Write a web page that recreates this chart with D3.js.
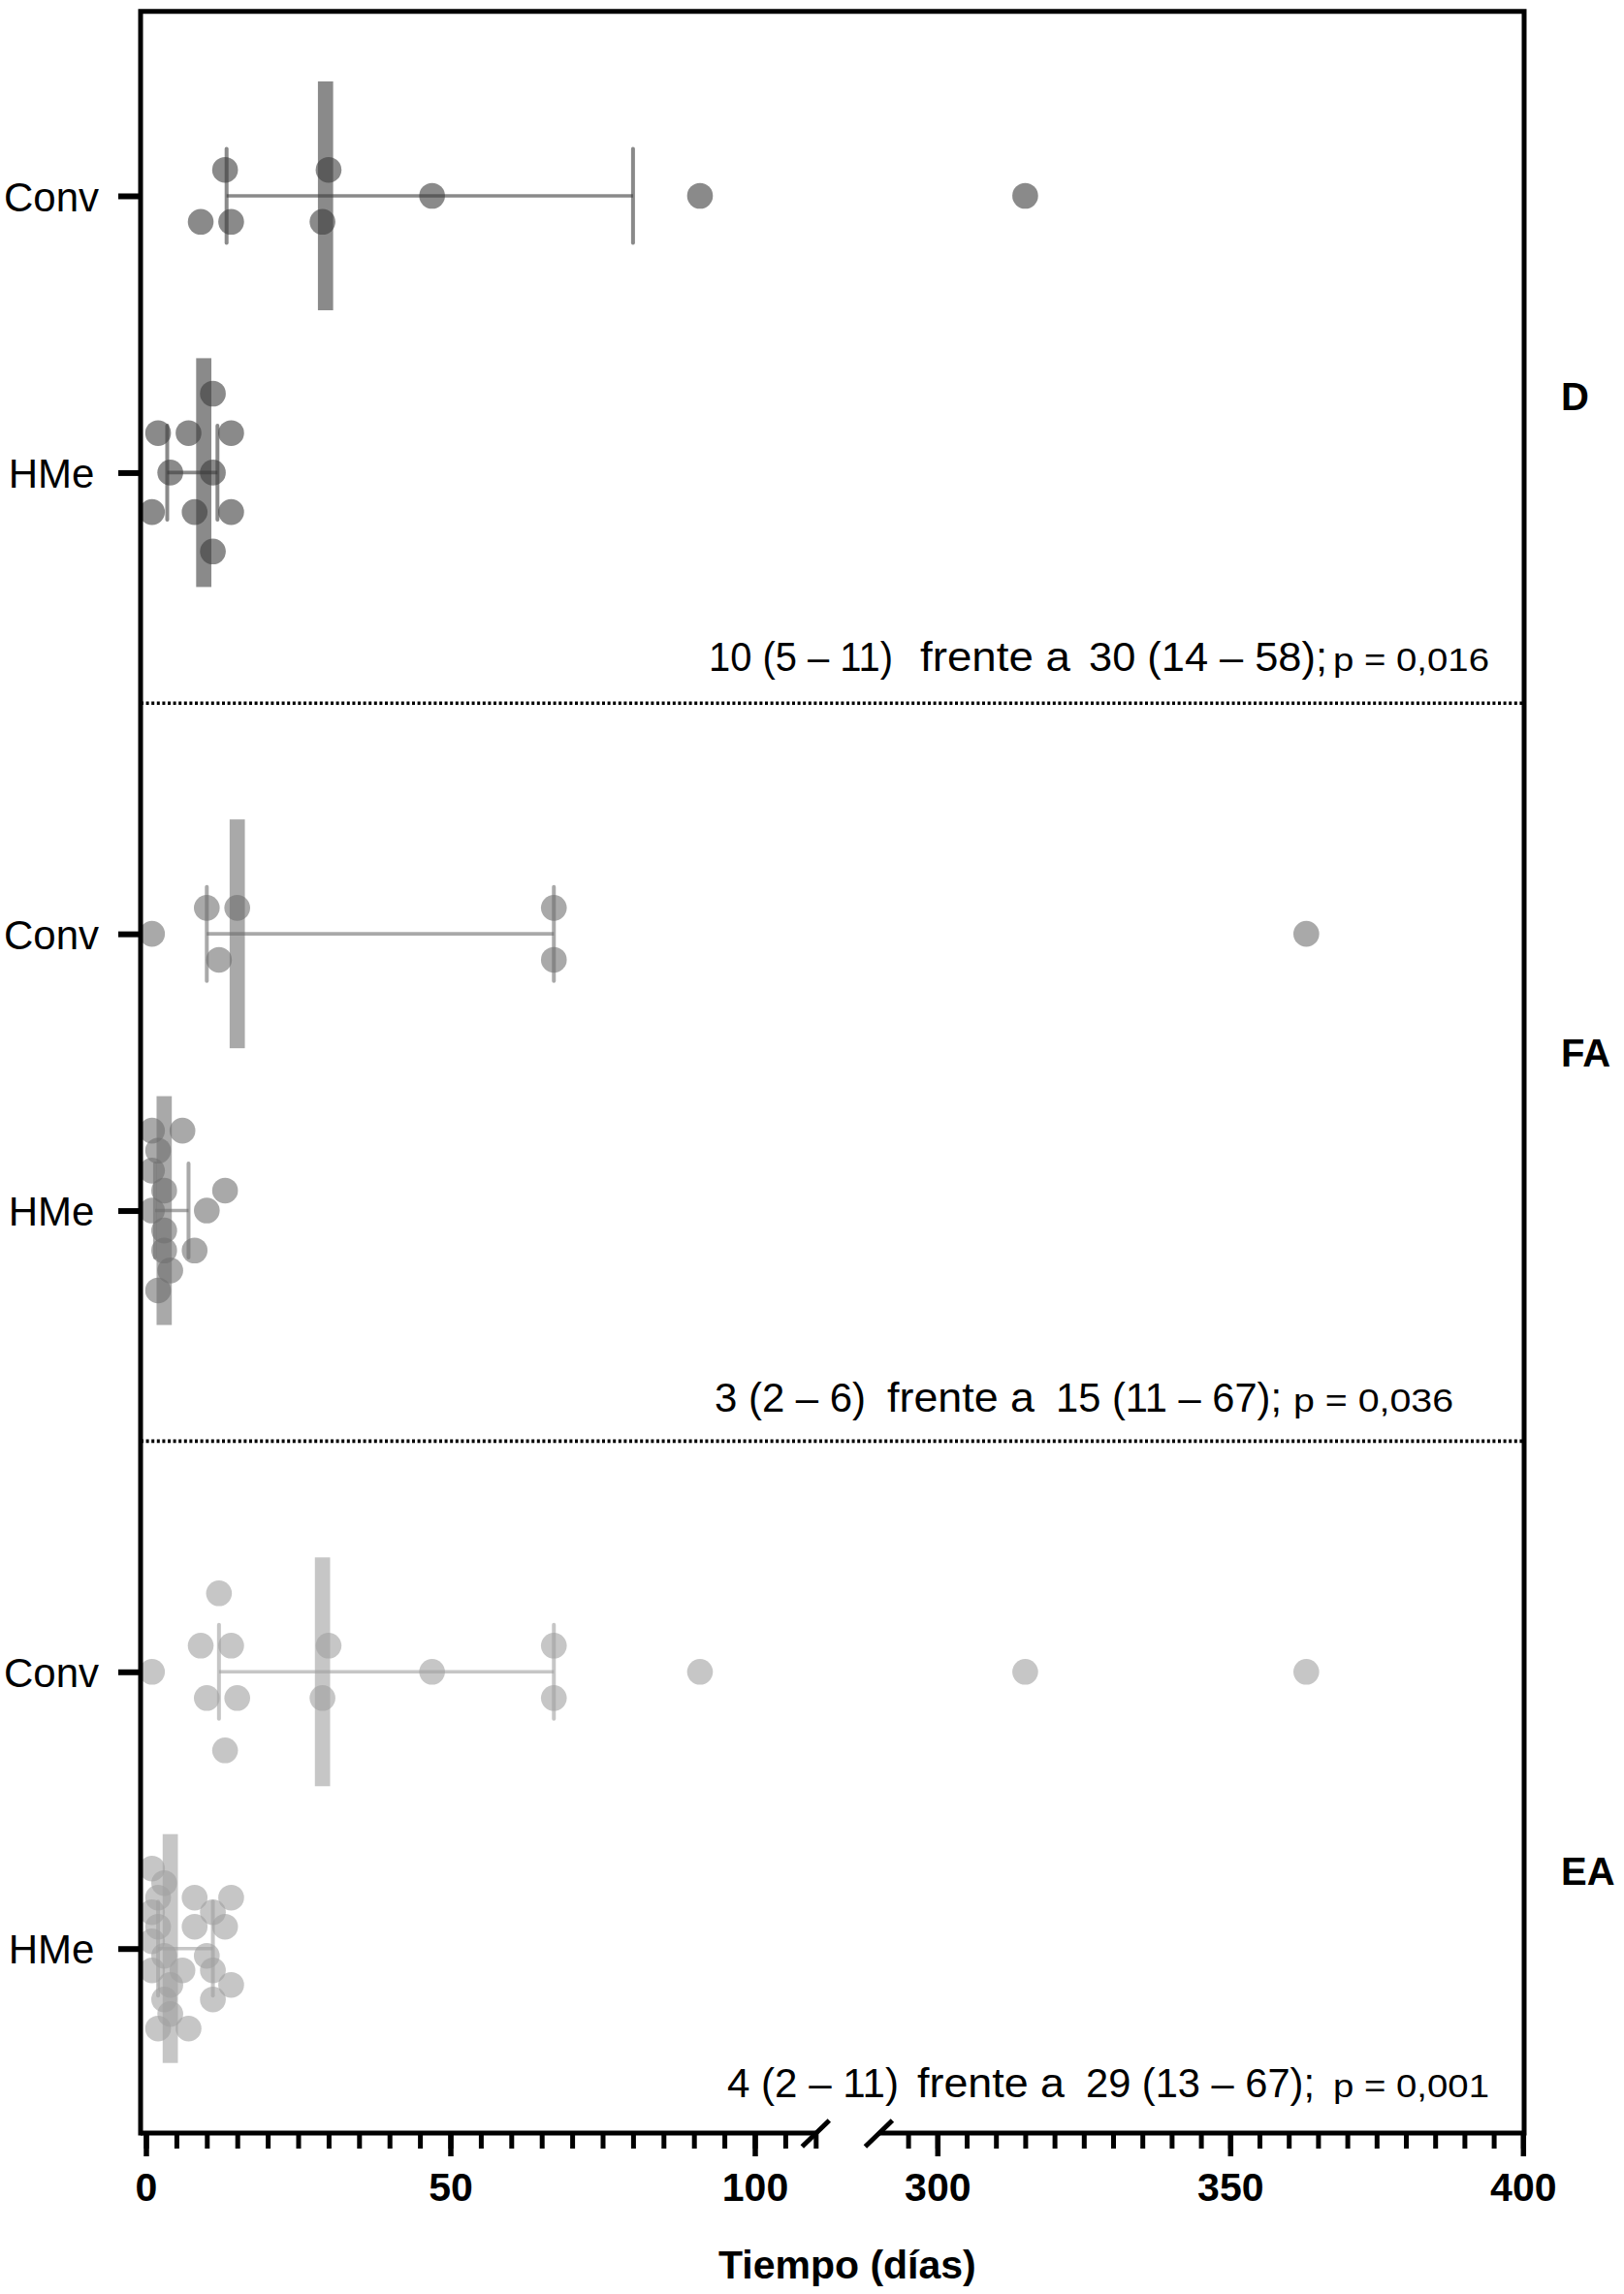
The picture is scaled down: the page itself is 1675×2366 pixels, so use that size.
<!DOCTYPE html>
<html><head><meta charset="utf-8">
<script src="https://cdn.jsdelivr.net/npm/d3@7"></script>
<style>body{margin:0;background:#fff}svg{display:block}</style>
</head><body>
<svg id="c" width="1675" height="2366"></svg>
<script>
// ---------------- DATA ----------------
const groups = ["D", "FA", "EA"];
const rowLabels = ["Conv", "HMe", "Conv", "HMe", "Conv", "HMe"];
const rowGroup = [0, 0, 1, 1, 2, 2];

// values (days) and swarm lanes for each row
const convD     = [13, 9, 14, 30, 29, 47, 91, 315];
const convDLane = [-1, 1, 1, -1, 1, 0, 0, 0];
const hmeD      = [11, 2, 7, 14, 4, 11, 1, 8, 14, 11];
const hmeDLane  = [-2, -1, -1, -1, 0, 0, 1, 1, 1, 2];
const convFA     = [1, 10, 15, 12, 67, 67, 363];
const convFALane = [0, -1, -1, 1, -1, 1, 0];
const hmeFA     = [1, 6, 2, 1, 3, 13, 1, 10, 3, 3, 8, 4, 2];
const hmeFALane = [-4, -4, -3, -2, -1, -1, 0, 0, 1, 2, 2, 3, 4];
const convEA     = [1, 12, 9, 14, 10, 15, 13, 30, 29, 47, 67, 67, 91, 315, 363];
const convEALane = [0, -3, -1, -1, 1, 1, 3, -1, 1, 0, -1, 1, 0, 0, 0];
const hmeEA     = [1, 3, 2, 8, 14, 1, 11, 2, 8, 13, 1, 3, 10, 1, 6, 11, 4, 14, 3, 11, 4, 2, 7];
const hmeEALane = [-5.5, -4.5, -3.5, -3.5, -3.5, -2.5, -2.5, -1.5, -1.5, -1.5, -0.5, 0.5, 0.5, 1.5, 1.5, 1.5, 2.5, 2.5, 3.5, 3.5, 4.5, 5.5, 5.5];

const rowValues = [convD, hmeD, convFA, hmeFA, convEA, hmeEA];
const rowLanes  = [convDLane, hmeDLane, convFALane, hmeFALane, convEALane, hmeEALane];

const xTicksLeft  = d3.range(0, 111, 5);
const xMajorLeft  = [0, 50, 100];
const xTicksRight = d3.range(295, 401, 5);
const xMajorRight = [300, 350, 400];
const xTitle = "Tiempo (días)";

const annotations = [
  ["10 (5 – 11)", "frente a", "30 (14 – 58);", "p = 0,016"],
  ["3 (2 – 6)", "frente a", "15 (11 – 67);", "p = 0,036"],
  ["4 (2 – 11)", "frente a", "29 (13 – 67);", "p = 0,001"]
];

// ---------------- LAYOUT ----------------
const FR = {l: 145, r: 1572, t: 11.7, b: 2200};
const svg = d3.select("#c");

const y = d3.scaleLinear().domain([-2, 21]).range([FR.t, FR.b]);
const rowSlots = [0, 3, 8, 11, 16, 19];
const sepSlots = [5.5, 13.5];
const groupLabelSlots = [2.32, 9.44, 18.31];

const xL = d3.scaleLinear().domain([0, 110]).range([150.5, 841.3]);
const xR = d3.scaleLinear().domain([290, 400]).range([906.4, 1570.8]);
const x = v => v > 200 ? xR(v) : xL(v);

const laneStep = [26.8, 40.7, 26.8, 20.6, 27, 15];
const groupFill = ["#3c3c3c", "#707070", "#a0a0a0"];
const alpha = 0.6;
const R = 13.3;

function pq(sorted, p) {
  const n = sorted.length;
  let pos = p * (n + 1);
  pos = Math.max(1, Math.min(n, pos));
  const i = Math.floor(pos), f = pos - i;
  if (i >= n) return sorted[n - 1];
  return sorted[i - 1] + f * (sorted[i] - sorted[i - 1]);
}

const FONT = "'Liberation Sans', Arial, Helvetica, sans-serif";
const NARROW = "'Liberation Sans Narrow', 'Arial Narrow', 'Liberation Sans', Arial, sans-serif";

// ---------------- SEPARATORS ----------------
svg.append("g").selectAll("line").data(sepSlots).join("line")
  .attr("x1", FR.l).attr("x2", FR.r)
  .attr("y1", d => y(d)).attr("y2", d => y(d))
  .attr("stroke", "#000").attr("stroke-width", 3.6)
  .attr("stroke-dasharray", "3,2.6");

// ---------------- ROWS ----------------
rowValues.forEach((vals, ri) => {
  const g = svg.append("g");
  const cy = y(rowSlots[ri]);
  const col = groupFill[rowGroup[ri]];
  const sorted = vals.slice().sort((a, b) => a - b);
  const med = d3.median(sorted), q1 = pq(sorted, 0.25), q3 = pq(sorted, 0.75);

  g.append("rect")
    .attr("x", x(med) - 7.85).attr("width", 15.7)
    .attr("y", cy - 118).attr("height", 236)
    .attr("fill", col).attr("fill-opacity", alpha);
  g.append("line").attr("x1", x(q1)).attr("x2", x(q3)).attr("y1", cy).attr("y2", cy)
    .attr("stroke", col).attr("stroke-opacity", alpha).attr("stroke-width", 3.6);
  [q1, q3].forEach(q => {
    g.append("line").attr("x1", x(q)).attr("x2", x(q)).attr("y1", cy - 48.5).attr("y2", cy + 48.5)
      .attr("stroke", col).attr("stroke-opacity", alpha).attr("stroke-width", 4)
      .attr("stroke-linecap", "round");
  });
  g.selectAll("circle").data(vals.map((v, i) => ({v, lane: rowLanes[ri][i]}))).join("circle")
    .attr("cx", d => x(d.v))
    .attr("cy", d => cy + d.lane * laneStep[ri])
    .attr("r", R)
    .attr("fill", col).attr("fill-opacity", alpha);
});

// ---------------- FRAME ----------------
svg.append("path")
  .attr("d", `M${FR.l},${FR.b} V${FR.t} H${FR.r} V${FR.b}`)
  .attr("fill", "none").attr("stroke", "#000").attr("stroke-width", 5)
  .attr("stroke-linejoin", "miter").attr("stroke-linecap", "square");

// y axis (category ticks + labels, labels centred in the left margin)
const yAxis = d3.axisLeft(y).tickValues(rowSlots)
  .tickFormat((d, i) => rowLabels[i]).tickSize(23).tickPadding(20);
const gy = svg.append("g").attr("transform", `translate(${FR.l},0)`).call(yAxis);
gy.select(".domain").remove();
gy.selectAll(".tick line").attr("stroke", "#000").attr("stroke-width", 6);
gy.selectAll(".tick text").attr("font-family", FONT).attr("font-size", 42)
  .attr("fill", "#000").attr("dy", "0.36em")
  .attr("text-anchor", "middle").attr("x", 53 - FR.l);

// x axis segments
function drawSeg(scale, ticks, majors, x0, x1) {
  const g = svg.append("g").attr("transform", `translate(0,${FR.b})`);
  g.append("line").attr("x1", x0).attr("x2", x1).attr("y1", 0).attr("y2", 0)
    .attr("stroke", "#000").attr("stroke-width", 5);
  const minor = g.append("g").call(d3.axisBottom(scale).tickValues(ticks).tickSize(16).tickFormat(""));
  minor.select(".domain").remove();
  minor.selectAll(".tick line").attr("stroke", "#000").attr("stroke-width", 5);
  const major = g.append("g").call(d3.axisBottom(scale).tickValues(majors).tickSize(24).tickPadding(17).tickFormat(d3.format("d")));
  major.select(".domain").remove();
  major.selectAll(".tick line").attr("stroke", "#000").attr("stroke-width", 5.5);
  major.selectAll(".tick text").attr("font-family", FONT).attr("font-weight", "bold")
    .attr("font-size", 41).attr("fill", "#000");
}
drawSeg(xL, xTicksLeft, xMajorLeft, FR.l, xL(110));
drawSeg(xR, xTicksRight, xMajorRight, xR(290), FR.r);

// break marks
[xL(110), xR(290)].forEach(cx => {
  svg.append("line").attr("x1", cx - 14).attr("y1", FR.b + 14).attr("x2", cx + 14).attr("y2", FR.b - 13)
    .attr("stroke", "#000").attr("stroke-width", 5);
});

// x title
svg.append("text").attr("x", (xL(110) + xR(290)) / 2).attr("y", 2350)
  .attr("text-anchor", "middle").attr("font-family", FONT).attr("font-weight", "bold")
  .attr("font-size", 41).attr("fill", "#000").text(xTitle);

// group labels on the right
svg.append("g").selectAll("text").data(groups).join("text")
  .attr("x", 1610).attr("y", (d, i) => y(groupLabelSlots[i]))
  .attr("font-family", FONT).attr("font-weight", "bold").attr("font-size", 40)
  .attr("fill", "#000").text(d => d);

// annotations
const annLayout = [
  {base: 691.7, pieces: [[731, 921], [949, 1104], [1123, 1369], [1375, 1536]]},
  {base: 1455.5, pieces: [[737, 893], [915, 1067], [1089, 1322], [1334, 1499]]},
  {base: 2163, pieces: [[750, 927], [946, 1098], [1120, 1356], [1375, 1536]]}
];
annotations.forEach((pieces, ai) => {
  const L = annLayout[ai];
  pieces.forEach((t, pi) => {
    const [a, b] = L.pieces[pi];
    svg.append("text").attr("x", a).attr("y", L.base)
      .attr("font-family", NARROW).attr("font-size", pi === 3 ? 33 : 43)
      .attr("fill", "#000")
      .attr("textLength", b - a).attr("lengthAdjust", "spacingAndGlyphs")
      .text(t);
  });
});
</script>
</body></html>
